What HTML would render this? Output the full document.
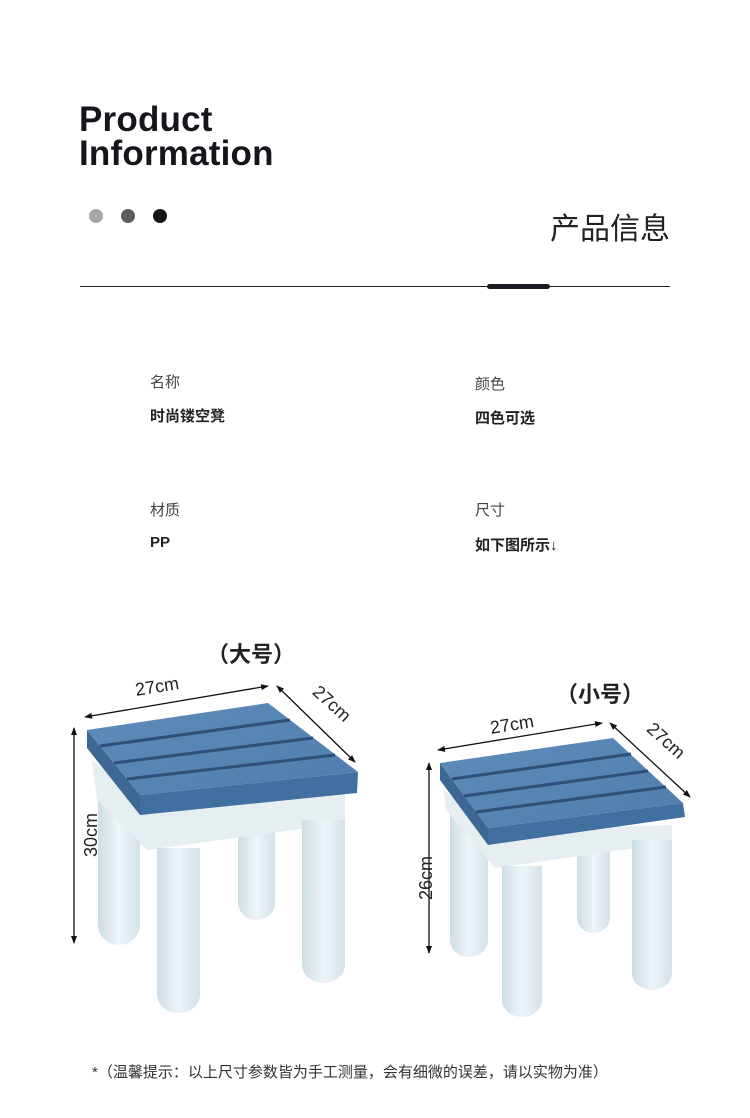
<!DOCTYPE html>
<html><head><meta charset="utf-8"><style>
body{margin:0;width:750px;height:1118px;background:#fff;position:relative;overflow:hidden;font-family:"Liberation Sans","Noto Sans CJK SC",sans-serif;color:#222}
.a{position:absolute;white-space:nowrap}
</style></head><body>
<div class="a" style="left:79px;top:103px;font-size:35px;font-weight:bold;line-height:34px;color:#15161c;letter-spacing:0.2px">Product<br>Information</div>
<div class="a" style="left:89px;top:209px;width:14px;height:14px;border-radius:50%;background:#a7a7ab"></div>
<div class="a" style="left:121px;top:209px;width:14px;height:14px;border-radius:50%;background:#5c5c62"></div>
<div class="a" style="left:153px;top:209px;width:14px;height:14px;border-radius:50%;background:#15161c"></div>
<div class="a" style="left:550px;top:210px;font-size:30px;line-height:40px;color:#222">产品信息</div>
<div class="a" style="left:80px;top:286px;width:590px;height:1px;background:#222"></div>
<div class="a" style="left:487px;top:284px;width:63px;height:5px;border-radius:3px;background:#1a1b22"></div>

<div class="a" style="left:150px;top:371px;font-size:15px;color:#444">名称</div>
<div class="a" style="left:150px;top:405px;font-size:15px;font-weight:bold">时尚镂空凳</div>
<div class="a" style="left:475px;top:373px;font-size:15px;color:#444">颜色</div>
<div class="a" style="left:475px;top:407px;font-size:15px;font-weight:bold">四色可选</div>
<div class="a" style="left:150px;top:499px;font-size:15px;color:#444">材质</div>
<div class="a" style="left:150px;top:534px;font-size:15px;font-weight:bold">PP</div>
<div class="a" style="left:475px;top:499px;font-size:15px;color:#444">尺寸</div>
<div class="a" style="left:475px;top:534px;font-size:15px;font-weight:bold">如下图所示↓</div>

<div class="a" style="left:207px;top:637px;font-size:22px;font-weight:bold">（大号）</div>
<div class="a" style="left:556px;top:677px;font-size:22px;font-weight:bold">（小号）</div>

<svg class="a" style="left:0;top:0" width="750" height="1118" viewBox="0 0 750 1118">
<defs>
<marker id="ar" markerWidth="8" markerHeight="8" refX="7" refY="4" orient="auto-start-reverse" markerUnits="userSpaceOnUse"><path d="M0,1 L8,4 L0,7z" fill="#111"/></marker>
<linearGradient id="lg" x1="0" x2="1"><stop offset="0" stop-color="#cddde6"/><stop offset=".5" stop-color="#eef5f8"/><stop offset="1" stop-color="#d3e2ea"/></linearGradient>
<linearGradient id="sg" x1="0" y1="0" x2="1" y2="1"><stop offset="0" stop-color="#5f8cba"/><stop offset="1" stop-color="#4e7dad"/></linearGradient>
</defs>
<g font-family="Liberation Sans, sans-serif" font-size="18" fill="#222">
<!-- large stool -->
<line x1="85" y1="717" x2="268" y2="686" stroke="#111" stroke-width="1.3" marker-start="url(#ar)" marker-end="url(#ar)"/>
<line x1="277" y1="686" x2="355" y2="762" stroke="#111" stroke-width="1.3" marker-start="url(#ar)" marker-end="url(#ar)"/>
<line x1="74" y1="728" x2="74" y2="943" stroke="#111" stroke-width="1.3" marker-start="url(#ar)" marker-end="url(#ar)"/>
<text x="135" y="692" transform="rotate(-9 160 686)">27cm</text>
<text x="305" y="710" transform="rotate(42 330 710)">27cm</text>
<text x="70" y="862" transform="rotate(-90 70 835)" text-anchor="middle">30cm</text>
<path d="M98,770 H140 V925 A21,20 0 0 1 98,925 Z" fill="url(#lg)"/>
<path d="M238,820 H275 V903 A18.5,17 0 0 1 238,903 Z" fill="url(#lg)"/>
<polygon points="92,760 145,800 345,792 345,823 147,850 97,800" fill="#e6eef2"/>
<path d="M302,820 H345 V965 A21.5,18 0 0 1 302,965 Z" fill="url(#lg)"/>
<path d="M157,848 H200 V995 A21.5,18 0 0 1 157,995 Z" fill="url(#lg)"/>
<polygon points="87,730 140,795 140,815 87,748" fill="#3d6894"/>
<polygon points="140,795 358,772 357,793 140,815" fill="#416f9f"/>
<polygon points="87,730 268,703 358,772 140,795" fill="url(#sg)"/>
<g stroke="#2e5078" stroke-width="3"><line x1="100" y1="746" x2="290" y2="720"/><line x1="114" y1="763" x2="313" y2="738"/><line x1="127" y1="779" x2="335" y2="755"/></g>
<!-- small stool -->
<line x1="438" y1="750" x2="602" y2="723" stroke="#111" stroke-width="1.3" marker-start="url(#ar)" marker-end="url(#ar)"/>
<line x1="610" y1="723" x2="690" y2="797" stroke="#111" stroke-width="1.3" marker-start="url(#ar)" marker-end="url(#ar)"/>
<line x1="429" y1="763" x2="429" y2="953" stroke="#111" stroke-width="1.3" marker-start="url(#ar)" marker-end="url(#ar)"/>
<text x="490" y="730" transform="rotate(-9 515 725)">27cm</text>
<text x="640" y="745" transform="rotate(42 662 745)">27cm</text>
<text x="425" y="885" transform="rotate(-90 425 878)" text-anchor="middle">26cm</text>
<path d="M450,800 H488 V940 A19,17 0 0 1 450,940 Z" fill="url(#lg)"/>
<path d="M577,845 H610 V918 A16.5,15 0 0 1 577,918 Z" fill="url(#lg)"/>
<polygon points="444,790 492,830 672,825 672,843 495,868 446,810" fill="#e6eef2"/>
<path d="M632,840 H672 V973 A20,17 0 0 1 632,973 Z" fill="url(#lg)"/>
<path d="M502,866 H542 V1000 A20,17 0 0 1 502,1000 Z" fill="url(#lg)"/>
<polygon points="440,763 488,828 488,845 440,780" fill="#3d6894"/>
<polygon points="488,828 683,803 685,817 488,845" fill="#416f9f"/>
<polygon points="440,763 613,738 683,803 488,828" fill="url(#sg)"/>
<g stroke="#2e5078" stroke-width="3"><line x1="452" y1="779" x2="631" y2="754"/><line x1="464" y1="796" x2="648" y2="771"/><line x1="476" y1="812" x2="666" y2="787"/></g>
</g>
</svg>
<div class="a" style="left:92px;top:1061px;font-size:15px;color:#333">*（温馨提示：以上尺寸参数皆为手工测量，会有细微的误差，请以实物为准）</div>
</body></html>
